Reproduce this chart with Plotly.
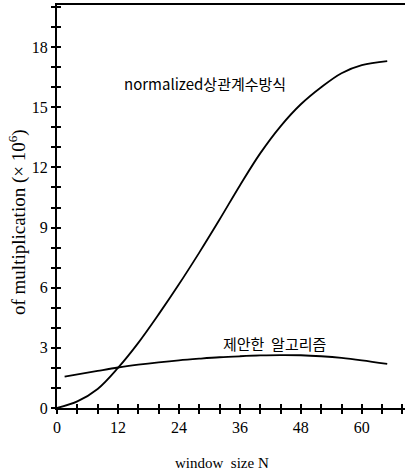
import plotly.graph_objects as go

# Data (window size N vs. number of multiplications, x10^6)
n_norm = [0, 4, 8, 12, 16, 20, 24, 28, 32, 36, 40, 44, 48, 52, 56, 60, 65]
v_norm = [0, 0.33, 0.95, 2.0, 3.25, 4.67, 6.17, 7.75, 9.4, 11.1, 12.7, 14.05, 15.15, 16.0, 16.7, 17.1, 17.3]

n_prop = [1.5, 8, 12, 16, 20, 24, 28, 32, 36, 40, 44, 48, 52, 56, 60, 65]
v_prop = [1.56, 1.85, 2.02, 2.16, 2.28, 2.38, 2.46, 2.53, 2.58, 2.62, 2.64, 2.63, 2.58, 2.5, 2.38, 2.2]

label_norm = "normalized상관계수방식"
label_prop = "제안한  알고리즘"
x_title = "window  size N"
y_title = "of multiplication (× 10<sup>6</sup>)"

x_ticks = [0, 12, 24, 36, 48, 60]
y_ticks = [0, 3, 6, 9, 12, 15, 18]

XR = [0, 68.5]
YR = [0, 20.1]

W, H = 405, 474
ML, MR, MT, MB = 57, 0, 5, 66
PW, PH = W - ML - MR, H - MT - MB

fig = go.Figure()
line = dict(color="black", width=1.8)
fig.add_trace(go.Scatter(x=n_norm, y=v_norm, mode="lines", line=dict(shape="spline", **line),
                         showlegend=False, hoverinfo="skip"))
fig.add_trace(go.Scatter(x=n_prop, y=v_prop, mode="lines", line=dict(shape="spline", **line),
                         showlegend=False, hoverinfo="skip"))
# invisible trace to anchor overlay axes (inside tick halves)
fig.add_trace(go.Scatter(x=[None], y=[None], xaxis="x2", yaxis="y2", showlegend=False,
                         hoverinfo="skip"))

tickfont = dict(family="Liberation Serif", size=16, color="black")
tk = dict(ticklen=4, tickwidth=1.5, tickcolor="black")

fig.update_layout(
    width=W, height=H,
    margin=dict(l=ML, r=MR, t=MT, b=MB),
    paper_bgcolor="white", plot_bgcolor="white",
    xaxis=dict(range=XR, tickvals=x_ticks, ticks="outside", **tk,
               showgrid=False, zeroline=False, showline=True,
               linecolor="black", linewidth=2, mirror=True, tickfont=tickfont,
               minor=dict(dtick=4, tick0=0, ticks="outside", showgrid=False, **tk)),
    yaxis=dict(range=YR, tickvals=y_ticks, ticks="outside", **tk,
               showgrid=False, zeroline=False, showline=True,
               linecolor="black", linewidth=2, tickfont=tickfont,
               minor=dict(dtick=1, tick0=0, ticks="outside", showgrid=False, **tk)),
    xaxis2=dict(range=XR, overlaying="x", side="bottom", anchor="y2", tickvals=x_ticks,
                ticks="inside", **tk, showticklabels=False, showgrid=False,
                zeroline=False, showline=False,
                minor=dict(dtick=4, tick0=0, ticks="inside", showgrid=False, **tk)),
    yaxis2=dict(range=YR, overlaying="y", side="left", anchor="x2", tickvals=y_ticks,
                ticks="inside", **tk, showticklabels=False, showgrid=False,
                zeroline=False, showline=False,
                minor=dict(dtick=1, tick0=0, ticks="inside", showgrid=False, **tk)),
    annotations=[
        dict(x=29.1, y=16.2, xref="x", yref="y", text=label_norm, showarrow=False,
             font=dict(family="Noto Sans CJK KR", size=15, color="black")),
        dict(x=42.9, y=3.24, xref="x", yref="y", text=label_prop, showarrow=False,
             font=dict(family="Noto Sans CJK KR", size=15, color="black")),
        dict(x=(222 - ML) / PW, y=(H - 463 - MB) / PH, xref="paper", yref="paper",
             text=x_title, showarrow=False, xanchor="center", yanchor="middle",
             font=dict(family="Liberation Serif", size=15, color="black")),
        dict(x=(17 - ML) / PW, y=(H - 222 - MB) / PH, xref="paper", yref="paper",
             text=y_title, showarrow=False, textangle=-90, xanchor="center", yanchor="middle",
             font=dict(family="Liberation Serif", size=19, color="black")),
    ],
)

fig.write_html("out.html", config={"displayModeBar": False},
               post_script="document.body.style.margin='0';")
